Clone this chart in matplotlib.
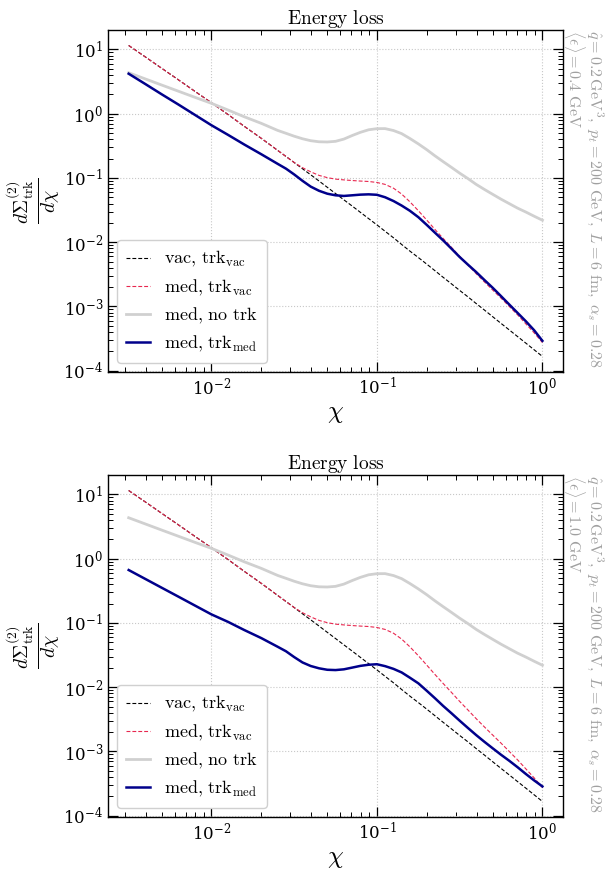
import matplotlib
matplotlib.use("Agg")
import matplotlib.pyplot as plt

plt.rcParams["mathtext.fontset"] = "cm"
plt.rcParams["font.family"] = "serif"
plt.rcParams["font.serif"] = ["DejaVu Serif"]

# chi values (0.1 decade steps, then 0.05 decade steps from 0.0282)
chi = [0.00316, 0.00398, 0.00501, 0.00631, 0.00794, 0.0100, 0.0126, 0.0158,
       0.0200, 0.0251, 0.0282, 0.0316, 0.0355, 0.0398, 0.0447, 0.0501, 0.0562,
       0.0631, 0.0708, 0.0794, 0.0891, 0.100, 0.112, 0.126, 0.141, 0.158,
       0.178, 0.200, 0.224, 0.251, 0.282, 0.316, 0.355, 0.398, 0.447, 0.501,
       0.562, 0.631, 0.708, 0.794, 0.891, 1.00]

vac_trkvac = [11.53, 7.66, 5.08, 3.37, 2.23, 1.48, 0.970, 0.635, 0.414, 0.269,
              0.216, 0.174, 0.139, 0.112, 0.0895, 0.0716, 0.0573, 0.0457,
              0.0366, 0.0292, 0.0233, 0.0186, 0.0148, 0.0117, 0.00923,
              0.00729, 0.00577, 0.00456, 0.00361, 0.00285, 0.00225, 0.00178,
              0.00141, 0.00111, 0.000877, 0.000692, 0.000546, 0.000431,
              0.000340, 0.000269, 0.000212, 0.000167]

med_trkvac = [11.53, 7.66, 5.08, 3.37, 2.23, 1.48, 0.970, 0.635, 0.414, 0.269,
              0.216, 0.174, 0.1445, 0.1245, 0.1096, 0.1012, 0.0959, 0.0933,
              0.0912, 0.0895, 0.0881, 0.0851, 0.0794, 0.0692, 0.0562, 0.0427,
              0.0309, 0.0221, 0.01585, 0.01148, 0.00832, 0.00603, 0.00442,
              0.00324, 0.00240, 0.00180, 0.00135, 0.00100, 0.000741,
              0.000537, 0.000389, 0.000275]

med_notrk = [4.34, 3.48, 2.79, 2.24, 1.80, 1.45, 1.14, 0.895, 0.708, 0.550,
             0.4955, 0.4467, 0.4074, 0.380, 0.3656, 0.3631, 0.3715, 0.4027,
             0.4571, 0.5129, 0.5623, 0.5848, 0.5861, 0.547, 0.4898, 0.4121,
             0.3388, 0.2754, 0.2213, 0.1799, 0.1462, 0.1189, 0.0977, 0.0794,
             0.0661, 0.0556, 0.0468, 0.0398, 0.0339, 0.0295, 0.0254, 0.0220]

# med, trk_med for <eps> = 0.4 GeV (top) and 1.0 GeV (bottom)
med_trkmed_04 = [4.19, 2.90, 2.00, 1.39, 0.959, 0.661, 0.468, 0.331, 0.234,
                 0.166, 0.1396, 0.1135, 0.0902, 0.0733, 0.0631, 0.0569,
                 0.0537, 0.0525, 0.0537, 0.0550, 0.0556, 0.0547, 0.0501,
                 0.0437, 0.0372, 0.0309, 0.0245, 0.0186, 0.0141, 0.0107,
                 0.00794, 0.00589, 0.00447, 0.00343, 0.00257, 0.00195,
                 0.00145, 0.00107, 0.000794, 0.000589, 0.000427, 0.000292]

med_trkmed_10 = [0.667, 0.485, 0.353, 0.257, 0.187, 0.136, 0.104, 0.0776,
                 0.0582, 0.0427, 0.0363, 0.0295, 0.0243, 0.0214, 0.0197,
                 0.0187, 0.0185, 0.0190, 0.0202, 0.0215, 0.0224, 0.0228,
                 0.0213, 0.0193, 0.0170, 0.0141, 0.0115, 0.00881, 0.00676,
                 0.00513, 0.00394, 0.00302, 0.00232, 0.00180, 0.00141,
                 0.00112, 0.000891, 0.000716, 0.000569, 0.000447, 0.000355,
                 0.000286]

eps_labels = ["0.4", "1.0"]

fig = plt.figure(figsize=(6.15, 8.75), dpi=100)
ax_top = fig.add_axes([0.1756, 0.5749, 0.740, 0.3909])
ax_bot = fig.add_axes([0.1756, 0.0663, 0.740, 0.3909])

for ax, med_trkmed, eps in zip([ax_top, ax_bot], [med_trkmed_04, med_trkmed_10], eps_labels):
    ax.plot(chi, vac_trkvac, color="black", ls=(0, (3.5, 1.8)), lw=0.8,
            label=r"$\mathrm{vac},\,\mathrm{trk_{vac}}$")
    ax.plot(chi, med_trkvac, color="#e8274f", ls=(0, (3.5, 1.8)), lw=0.8,
            label=r"$\mathrm{med},\,\mathrm{trk_{vac}}$")
    ax.plot(chi, med_notrk, color="#d0d0d0", lw=2.0,
            label=r"$\mathrm{med},\,\mathrm{no\ trk}$")
    ax.plot(chi, med_trkmed, color="#00008b", lw=1.8,
            label=r"$\mathrm{med},\,\mathrm{trk_{med}}$")
    ax.set_xscale("log")
    ax.set_yscale("log")
    ax.grid(True, which="major", ls=":", color="#c8c8c8", lw=0.8)
    ax.tick_params(which="both", direction="in", top=True, right=True, labelsize=12)
    ax.tick_params(which="major", length=7, width=0.9)
    ax.tick_params(which="minor", length=3.5, width=0.7)
    ax.set_title(r"$\mathrm{Energy\ loss}$", fontsize=14, pad=4)
    ax.set_xlabel(r"$\chi$", fontsize=18, labelpad=2)
    ax.set_ylabel(r"$\frac{d\Sigma^{(2)}_{\mathrm{trk}}}{d\chi}$", fontsize=20, labelpad=0)
    ax.legend(loc="lower left", fontsize=13, handlelength=1.3, framealpha=1,
              edgecolor="#d0d0d0", borderpad=0.5, labelspacing=0.45)
    # parameter text on the right, reading downwards
    ax.text(1.070, 1.0,
            r"$\hat{q} = 0.2\,\mathrm{GeV}^3,\ p_t = 200\ \mathrm{GeV},\ L = 6\ \mathrm{fm},\ \alpha_s = 0.28$",
            transform=ax.transAxes, rotation=270, ha="center", va="top",
            fontsize=11.5, color="#a0a0a0")
    ax.text(1.024, 1.0,
            r"$\langle\epsilon\rangle = " + eps + r"\ \mathrm{GeV}$",
            transform=ax.transAxes, rotation=270, ha="center", va="top",
            fontsize=11.5, color="#a0a0a0")
    for sp in ax.spines.values():
        sp.set_linewidth(1.0)

fig.savefig("out.png", dpi=100)
